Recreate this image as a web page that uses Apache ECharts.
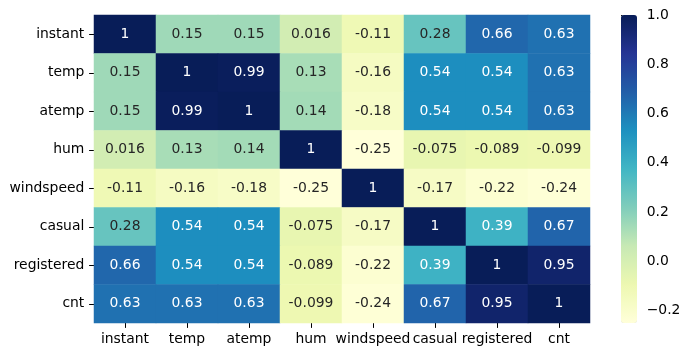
<!DOCTYPE html>
<html>
<head>
<meta charset="utf-8">
<script src="https://cdn.jsdelivr.net/npm/echarts@6/dist/echarts.min.js"></script>
<style>html,body{margin:0;padding:0;background:#fff}#c{width:690px;height:357px}</style>
</head>
<body>
<div id="c"></div>
<script>
var labels = ['instant','temp','atemp','hum','windspeed','casual','registered','cnt'];
var rowInstant    = [1, 0.15, 0.15, 0.016, -0.11, 0.28, 0.66, 0.63];
var rowTemp       = [0.15, 1, 0.99, 0.13, -0.16, 0.54, 0.54, 0.63];
var rowAtemp      = [0.15, 0.99, 1, 0.14, -0.18, 0.54, 0.54, 0.63];
var rowHum        = [0.016, 0.13, 0.14, 1, -0.25, -0.075, -0.089, -0.099];
var rowWindspeed  = [-0.11, -0.16, -0.18, -0.25, 1, -0.17, -0.22, -0.24];
var rowCasual     = [0.28, 0.54, 0.54, -0.075, -0.17, 1, 0.39, 0.67];
var rowRegistered = [0.66, 0.54, 0.54, -0.089, -0.22, 0.39, 1, 0.95];
var rowCnt        = [0.63, 0.63, 0.63, -0.099, -0.24, 0.67, 0.95, 1];
var colorbarTicks = [-0.2, 0.0, 0.2, 0.4, 0.6, 0.8, 1.0];
var vmin = -0.25, vmax = 1.0;

var rows = [rowInstant,rowTemp,rowAtemp,rowHum,rowWindspeed,rowCasual,rowRegistered,rowCnt];
var palette = ['#ffffd9','#edf8b1','#c7e9b4','#7fcdbb','#41b6c4','#1d91c0','#225ea8','#253494','#081d58'];
var font = "'DejaVu Sans', sans-serif";
var fs = 13.9;

var data = [];
rows.forEach(function(r, yi){
  r.forEach(function(v, xi){
    data.push({value:[xi, yi, v], label:{color: v > 0.33 ? '#ffffff' : '#262626'}});
  });
});

var chart = echarts.init(document.getElementById('c'), null, {renderer:'canvas'});
chart.setOption({
  animation:false,
  backgroundColor:'#fff',
  grid:[
    {left:94, top:15, width:496, height:308},
    {left:621, top:15, width:16, height:308}
  ],
  xAxis:[
    {type:'category', data:labels, gridIndex:0, position:'bottom',
     axisLine:{show:false}, splitLine:{show:false}, splitArea:{show:false},
     axisTick:{show:true, alignWithLabel:true, length:4.9, lineStyle:{color:'#000', width:1}},
     axisLabel:{color:'#000', fontSize:fs, fontFamily:font, margin:9.7, interval:0}},
    {type:'value', gridIndex:1, show:false, min:0, max:1}
  ],
  yAxis:[
    {type:'category', data:labels, gridIndex:0, inverse:true,
     axisLine:{show:false}, splitLine:{show:false}, splitArea:{show:false},
     axisTick:{show:true, alignWithLabel:true, length:4.9, lineStyle:{color:'#000', width:1}},
     axisLabel:{color:'#000', fontSize:fs, fontFamily:font, margin:9.7, interval:0}},
    {type:'value', gridIndex:1, position:'right', min:vmin, max:vmax,
     axisLine:{show:false}, splitLine:{show:false},
     axisTick:{show:true, length:4.9, customValues:colorbarTicks, lineStyle:{color:'#000', width:1}},
     axisLabel:{show:true, customValues:colorbarTicks, color:'#000', fontSize:fs, fontFamily:font, margin:9.7,
       formatter:function(v){return v.toFixed(1).replace('-', '\u2212');}}}
  ],
  visualMap:{
    type:'continuous', min:vmin, max:vmax, calculable:false, hoverLink:false,
    left:621, top:15, itemWidth:16, itemHeight:308, padding:0,
    text:null, showLabel:false, seriesIndex:0,
    inRange:{color:palette}
  },
  series:[{
    type:'heatmap', xAxisIndex:0, yAxisIndex:0, data:data,
    itemStyle:{borderWidth:0},
    label:{show:true, fontSize:fs, fontFamily:font,
      formatter:function(p){return String(p.value[2]);}},
    emphasis:{disabled:true}
  }]
});
</script>
</body>
</html>
